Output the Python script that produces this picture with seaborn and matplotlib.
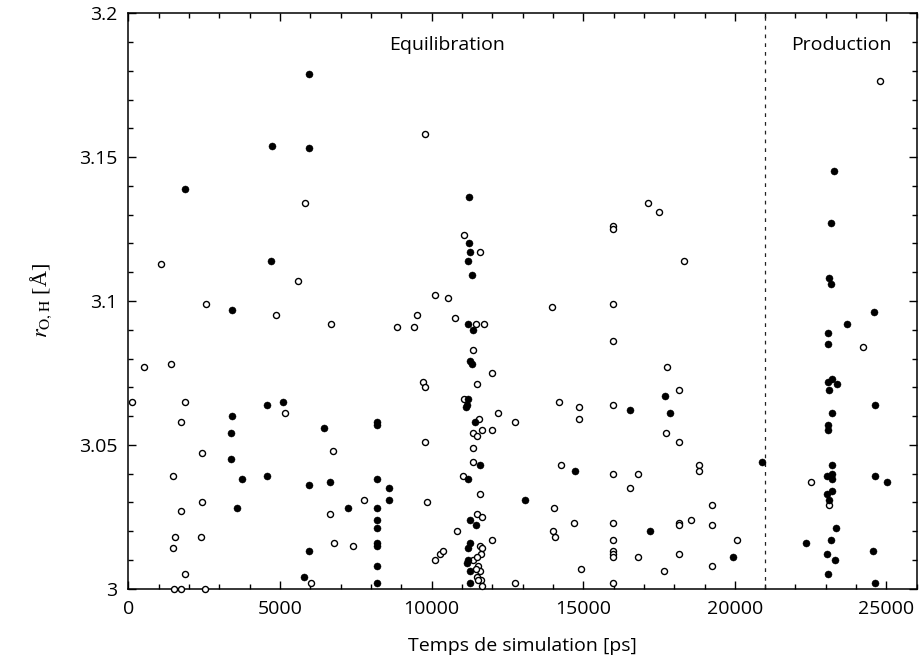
import seaborn as sns
from matplotlib import pyplot as plt
from matplotlib.ticker import MultipleLocator
import pandas as pd

# temps [ps] et distance O-H [A], cercles vides
open_t = [1078, 5824, 5583, 2561, 4868, 6680, 527, 1397, 111, 1869, 5165, 1737,
          2429, 1473, 2429, 1727, 6648, 1539, 2406, 1483, 1869, 6022, 1516, 1737,
          2528, 6757,
          7769, 6790, 7406, 9723, 9789, 9789, 9855, 10119, 10274, 10362, 10850,
          8866, 9407, 9515, 10768, 10119, 10537, 9779,
          11054, 11602, 11460, 11714, 11351, 11977, 11503, 11054, 12175, 12745,
          11559, 11351, 11503, 11668, 11977, 11351, 11351, 11021, 11602, 11503,
          11668, 11977, 11602, 11668, 11625, 11351, 11503, 11536, 11602, 11450,
          11503, 11614, 11536, 11668, 12745,
          13975, 15986, 15986, 17153, 17515, 15986, 15986, 18316, 17765, 18161,
          14205, 14855, 14855, 15986, 17733, 18161, 14262, 15986, 16810, 18810,
          18810, 16546, 14021, 19243, 14700, 15986, 18161, 18161, 18570, 19243,
          13989, 14064, 15986, 15986, 15986, 15986, 16810, 18161, 14943, 17666,
          19250, 15986, 20063,
          24799, 24239, 22512, 23095]
open_r = [3.113, 3.134, 3.107, 3.099, 3.095, 3.092, 3.077, 3.078, 3.065, 3.065, 3.061, 3.058,
          3.047, 3.039, 3.030, 3.027, 3.026, 3.018, 3.018, 3.014, 3.005, 3.002, 3.000, 3.000,
          3.000, 3.048,
          3.031, 3.016, 3.015, 3.072, 3.070, 3.051, 3.030, 3.010, 3.012, 3.013, 3.020,
          3.091, 3.091, 3.095, 3.094, 3.102, 3.101, 3.158,
          3.123, 3.117, 3.092, 3.092, 3.083, 3.075, 3.071, 3.066, 3.061, 3.058,
          3.059, 3.054, 3.053, 3.055, 3.055, 3.049, 3.044, 3.039, 3.033, 3.026,
          3.025, 3.017, 3.015, 3.014, 3.012, 3.010, 3.011, 3.008, 3.006, 3.007,
          3.004, 3.003, 3.003, 3.001, 3.002,
          3.098, 3.099, 3.086, 3.134, 3.131, 3.126, 3.125, 3.114, 3.077, 3.069,
          3.065, 3.063, 3.059, 3.064, 3.054, 3.051, 3.043, 3.040, 3.040, 3.043,
          3.041, 3.035, 3.028, 3.029, 3.023, 3.023, 3.023, 3.022, 3.024, 3.022,
          3.020, 3.018, 3.017, 3.013, 3.012, 3.011, 3.011, 3.012, 3.007, 3.006,
          3.008, 3.002, 3.017,
          3.1765, 3.084, 3.037, 3.029]

# cercles pleins
filled_t = [5966, 4726, 5966, 1869, 4703, 3408, 4561, 5089, 3408, 3385, 6450, 3385,
            3757, 4561, 5966, 6648, 3573, 5966, 5801, 7231, 8207, 8207, 8207, 8583,
            8593, 8207, 8207, 8207, 8207, 8207, 8207, 8207,
            11229, 11229, 11272, 11206, 11338, 11206, 11351, 11262, 11328, 11206,
            11153, 11120, 11427, 11592, 11206, 11262, 11450, 11262, 11206, 11186,
            11153, 11262, 11262,
            13075, 16559, 17683, 17877, 14723, 17197, 19941, 20897,
            23270, 23171, 23095, 23184, 24601, 23698, 23085, 23072, 23062, 23194,
            23369, 23105, 24611, 23194, 23062, 23062, 23194, 23039, 23194, 23194,
            24622, 25007, 23194, 23039, 23105, 23349, 22360, 23171, 23039, 23293,
            24568, 23062, 24622]
filled_r = [3.179, 3.154, 3.153, 3.139, 3.114, 3.097, 3.064, 3.065, 3.060, 3.054, 3.056, 3.045,
            3.038, 3.039, 3.036, 3.037, 3.028, 3.013, 3.004, 3.028, 3.058, 3.057, 3.038, 3.035,
            3.031, 3.028, 3.024, 3.021, 3.016, 3.015, 3.008, 3.002,
            3.136, 3.120, 3.117, 3.114, 3.109, 3.092, 3.090, 3.079, 3.078, 3.066,
            3.064, 3.063, 3.058, 3.043, 3.038, 3.024, 3.022, 3.016, 3.014, 3.010,
            3.009, 3.006, 3.002,
            3.031, 3.062, 3.067, 3.061, 3.041, 3.020, 3.011, 3.044,
            3.145, 3.127, 3.108, 3.106, 3.096, 3.092, 3.089, 3.085, 3.072, 3.073,
            3.071, 3.069, 3.064, 3.061, 3.057, 3.055, 3.043, 3.039, 3.040, 3.038,
            3.039, 3.037, 3.034, 3.033, 3.031, 3.021, 3.016, 3.017, 3.012, 3.010,
            3.013, 3.005, 3.002]

t_split = 21000

df_open = pd.DataFrame({'t': open_t, 'r': open_r})
df_filled = pd.DataFrame({'t': filled_t, 'r': filled_r})

sns.set_style("ticks")
plt.rcParams['font.family'] = ['Open Sans', 'DejaVu Sans']
plt.rcParams['mathtext.fontset'] = 'stix'
plt.rcParams['text.color'] = 'black'
plt.rcParams['axes.labelcolor'] = 'black'
plt.rcParams['xtick.color'] = 'black'
plt.rcParams['ytick.color'] = 'black'

fig = plt.figure(figsize=(9.2, 6.6), dpi=100)
ax = fig.add_axes([0.1395, 0.108, 0.857, 0.872])

sns.scatterplot(data=df_open, x='t', y='r', ax=ax, s=19, facecolor='white',
                edgecolor='black', linewidth=1.0, zorder=3, clip_on=False)
sns.scatterplot(data=df_filled, x='t', y='r', ax=ax, s=26, color='black',
                edgecolor='black', linewidth=0.3, zorder=4, clip_on=False)

ax.axvline(t_split, color='#222222', linewidth=0.9, linestyle=(0, (3, 4)), zorder=1)

ax.set_xlim(0, 26000)
ax.set_ylim(3.0, 3.2)
ax.xaxis.set_major_locator(MultipleLocator(5000))
ax.xaxis.set_minor_locator(MultipleLocator(1000))
ax.yaxis.set_minor_locator(MultipleLocator(0.01))
ax.set_yticks([3.0, 3.05, 3.1, 3.15, 3.2])
ax.set_yticklabels(['3', '3.05', '3.1', '3.15', '3.2'])

ax.tick_params(which='both', direction='in', top=True, right=True, labelsize=14, pad=8)
ax.tick_params(which='major', length=6, width=1)
ax.tick_params(which='minor', length=3.5, width=1)
for sp in ax.spines.values():
    sp.set_linewidth(1.1)
    sp.set_color('black')

ax.set_xlabel('Temps de simulation [ps]', fontsize=14, labelpad=14)
ax.set_ylabel(r'$r_{\mathrm{O,H}}$ [Å]', fontsize=16, family=['Liberation Serif', 'DejaVu Serif'],
              labelpad=18)

ax.text(10500, 3.189, 'Equilibration', ha='center', va='center', fontsize=14)
ax.text(23500, 3.189, 'Production', ha='center', va='center', fontsize=14)

plt.savefig('out.png', dpi=100)
